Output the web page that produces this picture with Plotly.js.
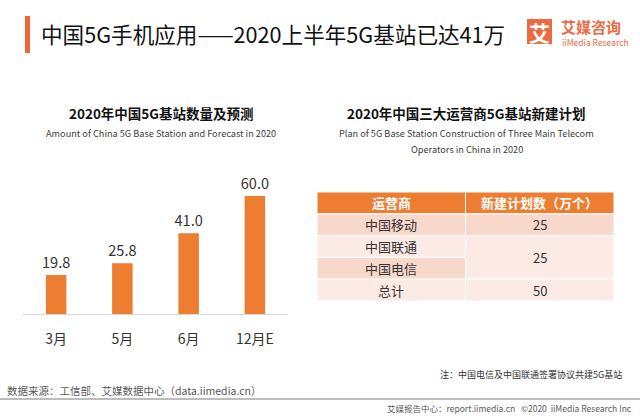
<!DOCTYPE html>
<html>
<head>
<meta charset="utf-8">
<script src="https://cdn.plot.ly/plotly-3.0.1.min.js"></script>
<style>html,body{margin:0;padding:0;background:#fff;}#chart{width:640px;height:416px;}</style>
</head>
<body>
<div id="chart"></div>
<script>
// ---- data ----
const months = ['3月', '5月', '6月', '12月E'];
const stations = [19.8, 25.8, 41.0, 60.0];
const tableHeader = ['运营商', '新建计划数（万个）'];
const operators = ['中国移动', '中国联通', '中国电信', '总计'];
const plans = [25, 25, 50];
const planSpans = [1, 2, 1];

const FONT = '"Noto Sans CJK SC", "Noto Sans", sans-serif';
const ORANGE = '#ED7D31';
const DARK = '#F8D8CB';
const LIGHT = '#FCEBE5';

const bar = {
  type: 'bar', x: months, y: stations, xaxis: 'x', yaxis: 'y',
  marker: {color: ORANGE},
  text: stations.map(v => v.toFixed(1)), textposition: 'outside', constraintext: 'none',
  textfont: {family: FONT, size: 14.5, color: '#333333'},
  cliponaxis: false, hoverinfo: 'none', width: 0.31
};

const shapes = [];
const annotations = [];

// table built from arrays on x2/y2 (each row = 1 unit, header = row 0)
const leftFill = [DARK, LIGHT, DARK, LIGHT];
tableHeader.forEach((h, c) => {
  shapes.push({type: 'rect', xref: 'x2', yref: 'y2', x0: c, x1: c + 1, y0: 0, y1: 1,
    fillcolor: ORANGE, line: {color: '#ffffff', width: 1}, layer: 'below'});
  annotations.push({xref: 'x2', yref: 'y2', x: c + 0.5, y: 0.5, text: '<b>' + h + '</b>', showarrow: false,
    font: {family: FONT, size: 13, color: '#ffffff'}});
});
operators.forEach((op, r) => {
  shapes.push({type: 'rect', xref: 'x2', yref: 'y2', x0: 0, x1: 1, y0: r + 1, y1: r + 2,
    fillcolor: leftFill[r], line: {color: '#ffffff', width: 1}, layer: 'below'});
  annotations.push({xref: 'x2', yref: 'y2', x: 0.5, y: r + 1.5, text: op, showarrow: false,
    font: {family: FONT, size: 13, color: '#333333'}});
});
let row = 1;
plans.forEach((p, i) => {
  const span = planSpans[i];
  shapes.push({type: 'rect', xref: 'x2', yref: 'y2', x0: 1, x1: 2, y0: row, y1: row + span,
    fillcolor: i === 0 ? DARK : LIGHT, line: {color: '#ffffff', width: 1}, layer: 'below'});
  annotations.push({xref: 'x2', yref: 'y2', x: 1.5, y: row + span / 2, text: String(p), showarrow: false,
    font: {family: FONT, size: 13, color: '#333333'}});
  row += span;
});

// decorations
shapes.push({type: 'rect', xref: 'paper', yref: 'paper', x0: 25/640, x1: 30/640, y0: 1 - 53/416, y1: 1 - 16/416,
  fillcolor: '#F0673A', line: {width: 0}});
shapes.push({type: 'rect', xref: 'paper', yref: 'paper', x0: 527/640, x1: 552/640, y0: 1 - 44/416, y1: 1 - 19/416,
  fillcolor: '#EC6A3F', line: {width: 0}});
shapes.push({type: 'line', xref: 'paper', yref: 'paper', x0: 0, x1: 1, y0: 1 - 399/416, y1: 1 - 399/416,
  line: {color: '#A6A6A6', width: 1.5}});

function pa(text, x, y, size, color, xanchor, extra) {
  annotations.push(Object.assign({xref: 'paper', yref: 'paper', x: x / 640, y: 1 - y / 416, text: text,
    showarrow: false, xanchor: xanchor || 'center', yanchor: 'middle',
    font: {family: FONT, size: size, color: color}}, extra || {}));
}
pa('中国5G手机应用——2020上半年5G基站已达41万', 39, 33, 21.6, '#111111', 'left');
pa('<b>艾</b>', 539.5, 31.5, 21, '#ffffff');
pa('<b>艾媒咨询</b>', 559, 26, 15, '#EC6A3F', 'left');
pa('iiMedia Research', 560, 42, 8.5, '#EC6A3F', 'left');

pa('<b>2020年中国5G基站数量及预测</b>', 161, 113, 13.5, '#111111');
pa('Amount of China 5G Base Station and Forecast in 2020', 161, 133, 9.2, '#404040');
pa('<b>2020年中国三大运营商5G基站新建计划</b>', 466, 113, 13.5, '#111111');
pa('Plan of 5G Base Station Construction of Three Main Telecom', 466, 133, 9.2, '#404040');
pa('Operators in China in 2020', 467, 149, 9.2, '#404040');

pa('注：中国电信及中国联通签署协议共建5G基站', 624, 374, 9, '#333333', 'right');
pa('数据来源：工信部、艾媒数据中心（data.iimedia.cn）', 5, 390, 10.5, '#595959', 'left');
pa('艾媒报告中心：report.iimedia.cn   ©2020  iiMedia Research Inc', 634, 408, 8.5, '#595959', 'right');

const layout = {
  width: 640, height: 416, margin: {l: 0, r: 0, t: 0, b: 0},
  paper_bgcolor: '#ffffff', plot_bgcolor: 'rgba(0,0,0,0)', showlegend: false,
  font: {family: FONT},
  xaxis: {domain: [23/640, 288/640], showline: true, linecolor: '#D9D9D9', linewidth: 1,
    ticks: '', showgrid: false, zeroline: false, fixedrange: true,
    tickfont: {family: FONT, size: 14, color: '#333333'}, ticklabelstandoff: 12},
  yaxis: {domain: [1 - 314/416, 1 - 176.3/416], range: [0, 70], visible: false, showgrid: false, fixedrange: true},
  xaxis2: {domain: [317/640, 614/640], range: [0, 2], visible: false, anchor: 'y2', fixedrange: true},
  yaxis2: {domain: [1 - 301/416, 1 - 192/416], range: [5, 0], visible: false, anchor: 'x2', fixedrange: true},
  shapes: shapes, annotations: annotations
};

Plotly.newPlot('chart', [bar], layout, {displayModeBar: false, staticPlot: true});
</script>
</body>
</html>
